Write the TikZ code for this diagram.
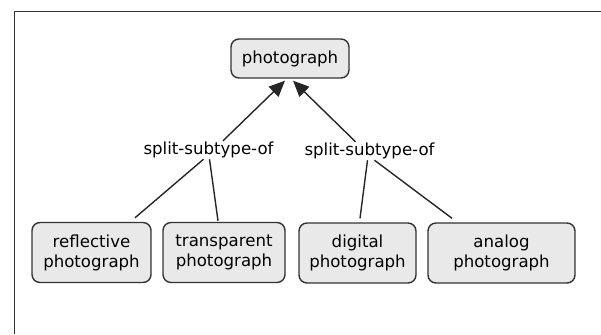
\documentclass[tikz,border=0pt]{standalone}
\usepackage{fontspec}
\setmainfont{DejaVu Sans}
\usetikzlibrary{arrows.meta}
\definecolor{boxfill}{HTML}{E9E9E9}
\definecolor{boxline}{HTML}{333333}

\begin{document}
\begin{tikzpicture}[x=1pt,y=-1pt,
    concept/.style={draw=boxline,fill=boxfill,rounded corners=8pt,line width=1.4pt,
      align=center,inner sep=0pt,minimum height=60pt,font=\fontsize{16.6}{20}\selectfont},
    rel/.style={inner sep=1pt,font=\fontsize{16.6}{20}\selectfont},
    link/.style={draw=black!85,line width=1.4pt},
    isa/.style={link,-{Triangle[length=16pt,width=14pt]}}]
  \useasboundingbox (0,0) rectangle (601,334);
  % frame
  \draw[boxline,line width=1pt] (14,334) -- (14,12) -- (601,12);
  % concepts
  \node[concept,minimum width=118pt,minimum height=39pt] (photo) at (290,58.5) {photograph};
  \node[concept,minimum width=119pt] (refl)   at (91.5,252.5)  {reflective\\photograph};
  \node[concept,minimum width=122pt] (transp) at (224,252.5)   {transparent\\photograph};
  \node[concept,minimum width=117pt] (digit)  at (357.5,253)   {digital\\photograph};
  \node[concept,minimum width=147pt] (analog) at (501.5,253)   {analog\\photograph};
  % relations
  \node[rel] (split1) at (208.5,150) {split-subtype-of};
  \node[rel] (split2) at (369.5,151) {split-subtype-of};
  \path
    ([xshift=14.5pt]split1.north) edge[isa] ([xshift=-5pt,yshift=-2pt]photo.south)
    ([xshift=-14pt]split2.north)  edge[isa] ([xshift=3pt,yshift=-2pt]photo.south)
    ([xshift=-5pt]split1.south)   edge[link] ([xshift=43.5pt,yshift=4pt]refl.north)
    ([xshift=1pt]split1.south)    edge[link] ([xshift=-6pt,yshift=1pt]transp.north)
    ([xshift=-2pt]split2.south)   edge[link] ([xshift=2.5pt,yshift=4pt]digit.north)
    ([xshift=5pt]split2.south)    edge[link] ([xshift=-49.5pt,yshift=4pt]analog.north);
\end{tikzpicture}
\end{document}
